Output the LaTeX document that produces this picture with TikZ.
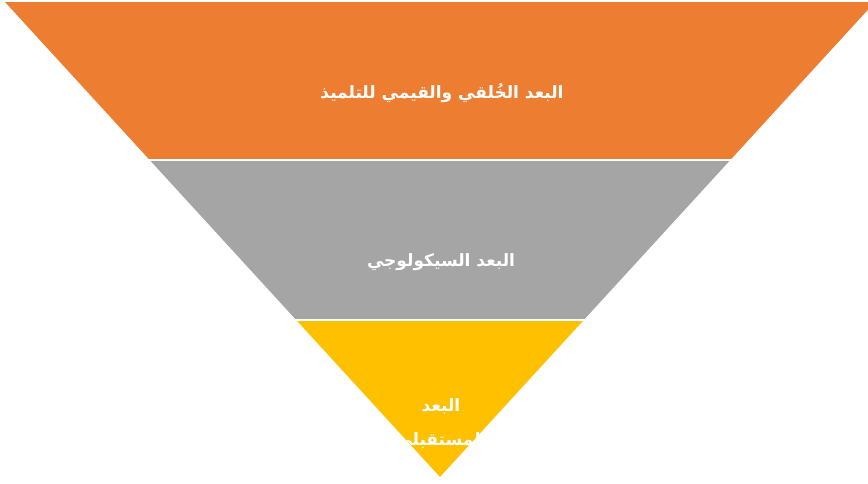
\documentclass[tikz,border=0pt]{standalone}
\usepackage{fontspec}
\newfontfamily\arabicfont[Script=Arabic]{DejaVu Sans}
\TeXXeTstate=1
\definecolor{bandorange}{HTML}{ED7D31}
\definecolor{bandgray}{HTML}{A5A5A5}
\definecolor{bandyellow}{HTML}{FFC000}

\begin{document}
\begin{tikzpicture}[x=1pt,y=-1pt,
    dimtext/.style={text=white,font=\arabicfont\bfseries\fontsize{17}{34}\selectfont,align=center}]
    \useasboundingbox (0,0) rectangle (868,483);
    % inverted triangle cut into three bands
    \begin{scope}
      \clip (5,2) -- (875,2) -- (440,477) -- cycle;
      \fill[bandorange] (0,0) rectangle (880,158.5);
      \fill[bandgray] (0,160.5) rectangle (880,318.5);
      \fill[bandyellow] (0,320.5) rectangle (880,483);
    \end{scope}
    \node[dimtext] (ethic) at (442,93) {\beginR البعد الخُلقي والقيمي للتلميذ\endR};
    \node[dimtext] (psycho) at (441,262) {\beginR البعد السيكولوجي\endR};
    \node[dimtext] (future) at (441,424) {\beginR البعد\endR\\ \beginR المستقبلي\endR};
  \end{tikzpicture}
\end{document}
